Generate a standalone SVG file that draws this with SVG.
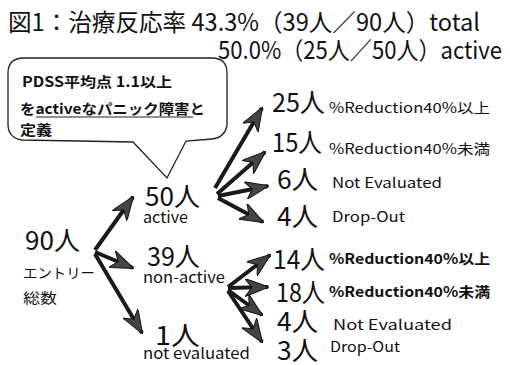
<svg xmlns="http://www.w3.org/2000/svg" width="510" height="365" viewBox="0 0 510 365">
<style>
.t{font-family:"Noto Sans CJK JP","Liberation Sans",sans-serif;fill:#111}
.big{font-size:26px}
.sm{font-size:14px}
.b{font-weight:bold}
.ar{stroke:#1a1a1a;stroke-width:4;fill:none;marker-end:url(#ah)}
</style>
<defs>
<marker id="ah" markerUnits="userSpaceOnUse" markerWidth="24" markerHeight="18" viewBox="0 0 24 18" refX="23" refY="9" orient="auto">
<path d="M0,0 L24,9 L0,18 L7,9 Z" fill="#444" stroke="#111" stroke-width="1"/>
</marker>
</defs>
<rect width="510" height="365" fill="#fff"/>
<g id="title">
<text class="t" x="8" y="31" font-size="24" textLength="472" lengthAdjust="spacingAndGlyphs">図1：治療反応率 43.3%（39人／90人）total</text>
<text class="t" x="218" y="59" font-size="24" textLength="284" lengthAdjust="spacingAndGlyphs">50.0%（25人／50人）active</text>
</g>
<g id="callout">
<path d="M24 58 L212 58 Q227 58 227 73 L227 126 Q224 138 212 139 L186 141 L167 178 L133 142 L22 140 Q8 138 8 124 L8 73 Q8 58 24 58 Z" fill="#fff" stroke="#222" stroke-width="1.3"/>
<text class="t sm b" x="22" y="87" textLength="150" lengthAdjust="spacingAndGlyphs">PDSS平均点  1.1以上</text>
<text class="t sm b" x="20" y="114" textLength="185" lengthAdjust="spacingAndGlyphs">をactiveなパニック障害と</text>
<line x1="36" y1="117" x2="193" y2="117" stroke="#222" stroke-width="1.2"/>
<text class="t sm b" x="20" y="135" textLength="32" lengthAdjust="spacingAndGlyphs">定義</text>
</g>
<g id="connectors">
<line class="ar" x1="95" y1="250" x2="133" y2="197"/>
<line class="ar" x1="95" y1="252" x2="133" y2="268"/>
<line class="ar" x1="95" y1="254" x2="142" y2="333"/>
<line class="ar" x1="215" y1="188" x2="262" y2="108"/>
<line class="ar" x1="217" y1="194" x2="265" y2="152"/>
<line class="ar" x1="218" y1="196" x2="268" y2="186"/>
<line class="ar" x1="218" y1="198" x2="263" y2="222"/>
<line class="ar" x1="228" y1="287" x2="270" y2="255"/>
<line class="ar" x1="228" y1="288" x2="268" y2="287"/>
<line class="ar" x1="228" y1="290" x2="262" y2="315"/>
<line class="ar" x1="228" y1="291" x2="262" y2="342"/>
</g>
<g id="n90">
<text class="t big" x="25" y="250" textLength="55" lengthAdjust="spacingAndGlyphs">90人</text>
<text class="t sm" x="23" y="278" textLength="72" lengthAdjust="spacingAndGlyphs">エントリー</text>
<text class="t sm" x="23" y="303" textLength="34" lengthAdjust="spacingAndGlyphs">総数</text>
</g>
<g id="n50">
<text class="t big" x="145" y="206" textLength="55" lengthAdjust="spacingAndGlyphs">50人</text>
<text class="t" x="143" y="223" font-size="15" textLength="45" lengthAdjust="spacingAndGlyphs">active</text>
</g>
<g id="n39">
<text class="t big" x="147" y="266" textLength="53" lengthAdjust="spacingAndGlyphs">39人</text>
<text class="t" x="143" y="283" font-size="15" textLength="82" lengthAdjust="spacingAndGlyphs">non-active</text>
</g>
<g id="n1">
<text class="t big" x="155" y="345" textLength="45" lengthAdjust="spacingAndGlyphs">1人</text>
<text class="t" x="143" y="359" font-size="15" textLength="107" lengthAdjust="spacingAndGlyphs">not  evaluated</text>
</g>
<g id="n25">
<text class="t big" x="272" y="112" textLength="53" lengthAdjust="spacingAndGlyphs">25人</text>
<text class="t sm" x="329" y="113" textLength="161" lengthAdjust="spacingAndGlyphs">%Reduction40%以上</text>
</g>
<g id="n15">
<text class="t big" x="272" y="152" textLength="50" lengthAdjust="spacingAndGlyphs">15人</text>
<text class="t sm" x="329" y="154" textLength="161" lengthAdjust="spacingAndGlyphs">%Reduction40%未満</text>
</g>
<g id="n6">
<text class="t big" x="277" y="189" textLength="41" lengthAdjust="spacingAndGlyphs">6人</text>
<text class="t sm" x="332" y="188" textLength="110" lengthAdjust="spacingAndGlyphs">Not  Evaluated</text>
</g>
<g id="n4a">
<text class="t big" x="277" y="226" textLength="41" lengthAdjust="spacingAndGlyphs">4人</text>
<text class="t sm" x="332" y="222" textLength="73" lengthAdjust="spacingAndGlyphs">Drop-Out</text>
</g>
<g id="n14">
<text class="t big" x="273" y="269" textLength="52" lengthAdjust="spacingAndGlyphs">14人</text>
<text class="t sm b" x="329" y="264" textLength="161" lengthAdjust="spacingAndGlyphs">%Reduction40%以上</text>
</g>
<g id="n18">
<text class="t big" x="276" y="302" textLength="49" lengthAdjust="spacingAndGlyphs">18人</text>
<text class="t sm b" x="329" y="297" textLength="161" lengthAdjust="spacingAndGlyphs">%Reduction40%未満</text>
</g>
<g id="n4b">
<text class="t big" x="277" y="331" textLength="41" lengthAdjust="spacingAndGlyphs">4人</text>
<text class="t sm" x="333" y="330" textLength="119" lengthAdjust="spacingAndGlyphs">Not  Evaluated</text>
</g>
<g id="n3">
<text class="t big" x="277" y="360" textLength="41" lengthAdjust="spacingAndGlyphs">3人</text>
<text class="t sm" x="330" y="352" textLength="70" lengthAdjust="spacingAndGlyphs">Drop-Out</text>
</g>
</svg>
